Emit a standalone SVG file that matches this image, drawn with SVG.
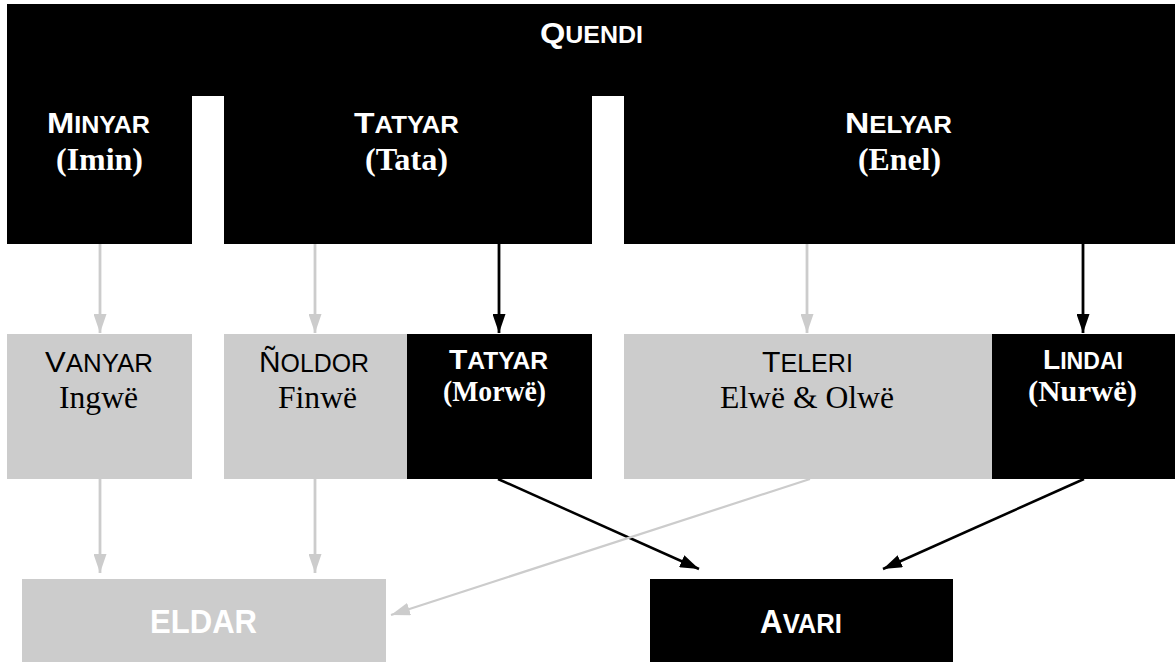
<svg xmlns="http://www.w3.org/2000/svg" width="1175" height="662" viewBox="0 0 1175 662">
  <style>
    .ns { font-family: "Liberation Sans", Arial, sans-serif; font-size: 23px; }
    .sr { font-family: "Liberation Serif", "Times New Roman", serif; font-size: 32px; }
    .b { font-weight: bold; }
    .w { fill: #ffffff; }
    .k { fill: #000000; }
    .cap { font-size: 30px; }
    .blk { fill: #000000; }
    .gry { fill: #cccccc; }
    .cg { stroke: #cccccc; stroke-width: 2.8; fill: none; }
    .cb { stroke: #000000; stroke-width: 2.8; fill: none; }
  </style>
  <defs>
    <marker id="ag" markerUnits="userSpaceOnUse" markerWidth="19" markerHeight="13" refX="19" refY="6.5" orient="auto">
      <path d="M0,0 L19,6.5 L0,13 z" fill="#cccccc"/>
    </marker>
    <marker id="ab" markerUnits="userSpaceOnUse" markerWidth="19" markerHeight="13" refX="19" refY="6.5" orient="auto">
      <path d="M0,0 L19,6.5 L0,13 z" fill="#000000"/>
    </marker>
  </defs>

  <g id="connectors">
    <line class="cg" x1="100" y1="244" x2="100" y2="333" marker-end="url(#ag)"/>
    <line class="cg" x1="315" y1="244" x2="315" y2="333" marker-end="url(#ag)"/>
    <line class="cb" x1="499" y1="244" x2="499" y2="333" marker-end="url(#ab)"/>
    <line class="cg" x1="807" y1="244" x2="807" y2="333" marker-end="url(#ag)"/>
    <line class="cb" x1="1083" y1="244" x2="1083" y2="333" marker-end="url(#ab)"/>
    <line class="cg" x1="100" y1="479" x2="100" y2="573" marker-end="url(#ag)"/>
    <line class="cg" x1="315" y1="479" x2="315" y2="573" marker-end="url(#ag)"/>
    <line class="cb" style="stroke-width:2.5" x1="498" y1="479" x2="699" y2="569" marker-end="url(#ab)"/>
    <line class="cb" style="stroke-width:2.5" x1="1084" y1="479" x2="883" y2="569" marker-end="url(#ab)"/>
    <line class="cg" style="stroke-width:2.2" x1="810" y1="479" x2="391" y2="615" marker-end="url(#ag)"/>
  </g>

  <g id="quendi">
    <rect class="blk" x="7" y="4" width="1168" height="92"/>
    <text class="ns b w" x="540" y="43" textLength="103" lengthAdjust="spacingAndGlyphs"><tspan class="cap">Q</tspan>UENDI</text>
  </g>

  <g id="minyar">
    <rect class="blk" x="7" y="95" width="185" height="149"/>
    <text class="ns b w" x="47" y="133" textLength="103" lengthAdjust="spacingAndGlyphs"><tspan class="cap">M</tspan>INYAR</text>
    <text class="sr b w" x="56" y="170" textLength="87" lengthAdjust="spacingAndGlyphs">(Imin)</text>
  </g>

  <g id="tatyar">
    <rect class="blk" x="224" y="95" width="368" height="149"/>
    <text class="ns b w" x="354" y="133" textLength="105" lengthAdjust="spacingAndGlyphs"><tspan class="cap">T</tspan>ATYAR</text>
    <text class="sr b w" x="365" y="170" textLength="83" lengthAdjust="spacingAndGlyphs">(Tata)</text>
  </g>

  <g id="nelyar">
    <rect class="blk" x="624" y="95" width="551" height="149"/>
    <text class="ns b w" x="845" y="133" textLength="107" lengthAdjust="spacingAndGlyphs"><tspan class="cap">N</tspan>ELYAR</text>
    <text class="sr b w" x="858" y="170" textLength="83" lengthAdjust="spacingAndGlyphs">(Enel)</text>
  </g>

  <g id="vanyar">
    <rect class="gry" x="7" y="334" width="185" height="145"/>
    <text class="ns k" style="font-size:25px" x="45" y="372" textLength="108" lengthAdjust="spacingAndGlyphs"><tspan class="cap">V</tspan>ANYAR</text>
    <text class="sr k" x="59" y="408" textLength="79" lengthAdjust="spacingAndGlyphs">Ingwë</text>
  </g>

  <g id="noldor">
    <rect class="gry" x="224" y="334" width="183" height="145"/>
    <text class="ns k" style="font-size:25px" x="259" y="372" textLength="110" lengthAdjust="spacingAndGlyphs"><tspan class="cap">Ñ</tspan>OLDOR</text>
    <text class="sr k" x="278" y="408" textLength="79" lengthAdjust="spacingAndGlyphs">Finwë</text>
  </g>

  <g id="tatyar-morwe">
    <rect class="blk" x="407" y="334" width="185" height="145"/>
    <text class="ns b w" x="449" y="369" textLength="99" lengthAdjust="spacingAndGlyphs"><tspan class="cap" style="font-size:28px">T</tspan>ATYAR</text>
    <text class="sr b w" style="font-size:29px" x="443" y="401" textLength="103" lengthAdjust="spacingAndGlyphs">(Morwë)</text>
  </g>

  <g id="teleri">
    <rect class="gry" x="624" y="334" width="368" height="145"/>
    <text class="ns k" style="font-size:25px" x="762" y="372" textLength="91" lengthAdjust="spacingAndGlyphs"><tspan class="cap">T</tspan>ELERI</text>
    <text class="sr k" x="720" y="408" textLength="174" lengthAdjust="spacingAndGlyphs">Elwë &amp; Olwë</text>
  </g>

  <g id="lindai">
    <rect class="blk" x="992" y="334" width="183" height="145"/>
    <text class="ns b w" x="1043" y="369" textLength="80" lengthAdjust="spacingAndGlyphs"><tspan class="cap" style="font-size:28px">L</tspan>INDAI</text>
    <text class="sr b w" style="font-size:29px" x="1028" y="401" textLength="109" lengthAdjust="spacingAndGlyphs">(Nurwë)</text>
  </g>

  <g id="eldar">
    <rect class="gry" x="22" y="579" width="364" height="83"/>
    <text class="ns b w" style="font-size:33px" x="150" y="633" textLength="107" lengthAdjust="spacingAndGlyphs">ELDAR</text>
  </g>

  <g id="avari">
    <rect class="blk" x="650" y="579" width="303" height="83"/>
    <text class="ns b w" style="font-size:27px" x="760" y="633" textLength="82" lengthAdjust="spacingAndGlyphs"><tspan style="font-size:33px">A</tspan>VARI</text>
  </g>
</svg>
